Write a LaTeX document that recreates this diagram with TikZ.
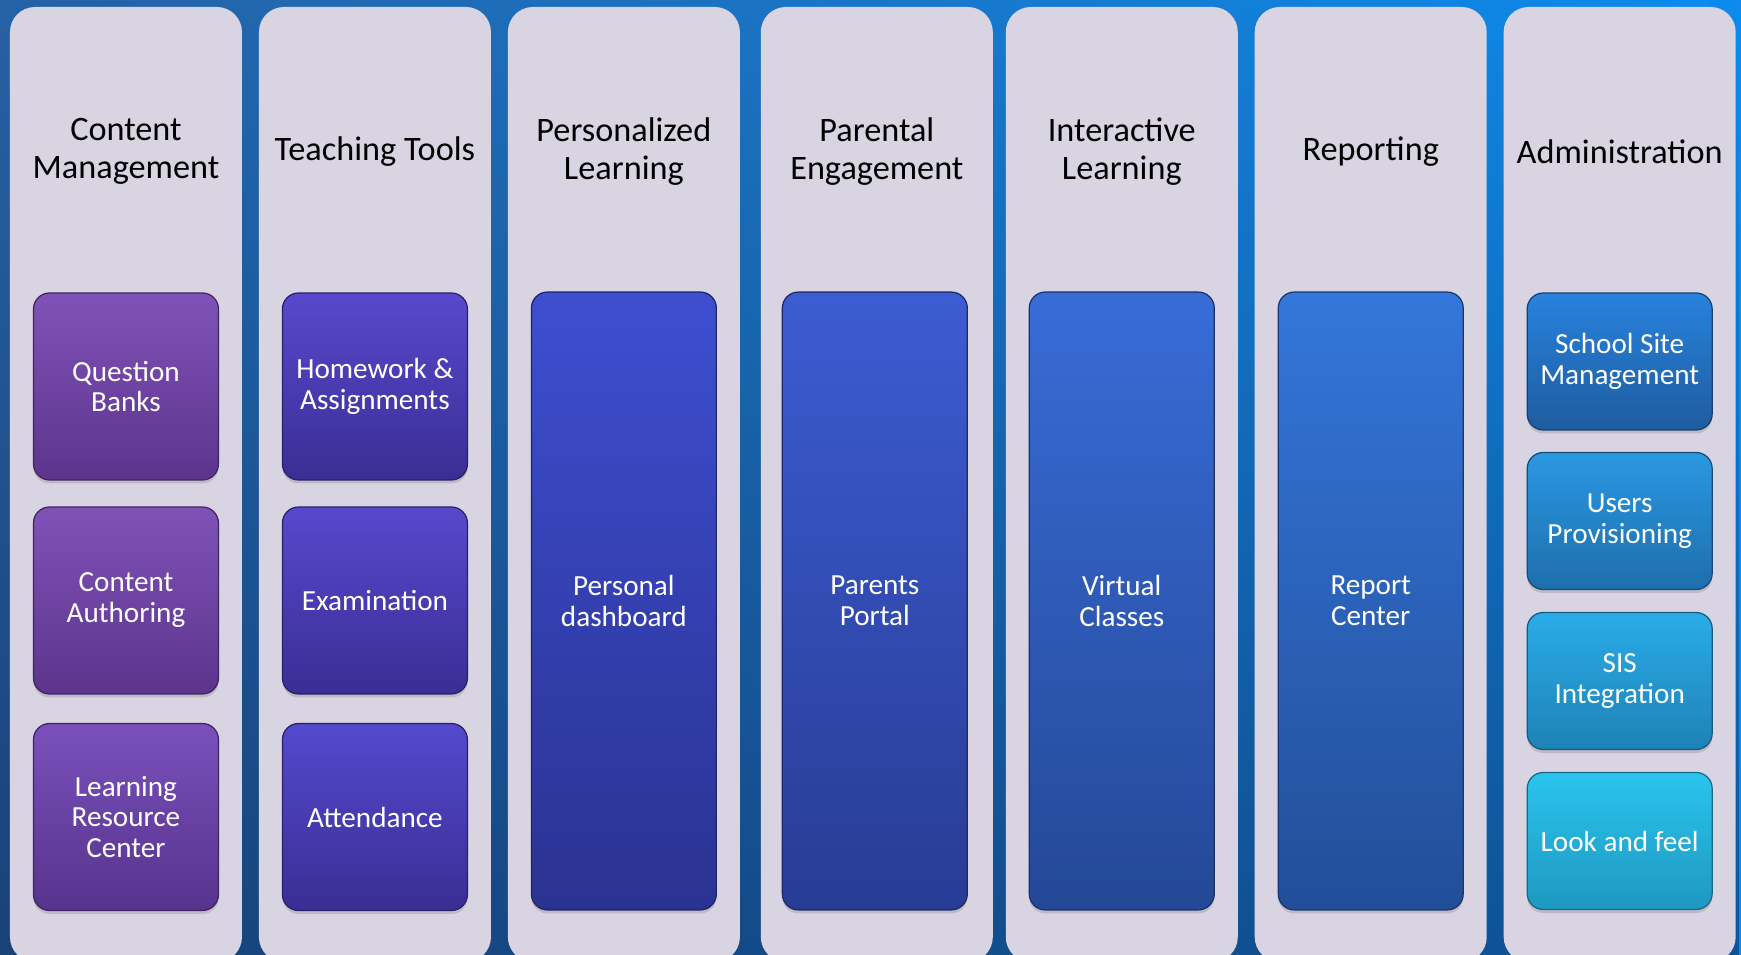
\documentclass[tikz,border=0pt]{standalone}
\usepackage{fontspec}
\setmainfont{Carlito}
\usetikzlibrary{shadows, fadings}
\definecolor{bgleft}{RGB}{38, 98, 165}
\definecolor{bgright}{RGB}{12, 140, 238}
\definecolor{bgdark}{RGB}{15, 40, 85}
\definecolor{panelgray}{RGB}{216, 212, 226}
\definecolor{cmtop}{RGB}{128, 82, 184}
\definecolor{cmbot}{RGB}{92, 52, 140}
\definecolor{tttop}{RGB}{88, 72, 205}
\definecolor{ttbot}{RGB}{58, 46, 148}
\definecolor{pltop}{RGB}{62, 78, 208}
\definecolor{plbot}{RGB}{42, 50, 145}
\definecolor{petop}{RGB}{60, 92, 210}
\definecolor{pebot}{RGB}{40, 60, 148}
\definecolor{iltop}{RGB}{56, 108, 215}
\definecolor{ilbot}{RGB}{36, 72, 150}
\definecolor{rptop}{RGB}{52, 118, 218}
\definecolor{rpbot}{RGB}{34, 78, 152}
\definecolor{sstop}{RGB}{40, 130, 220}
\definecolor{ssbot}{RGB}{30, 92, 160}
\definecolor{uptop}{RGB}{42, 152, 226}
\definecolor{upbot}{RGB}{30, 110, 172}
\definecolor{sitop}{RGB}{42, 172, 232}
\definecolor{sibot}{RGB}{30, 130, 182}
\definecolor{lftop}{RGB}{42, 196, 238}
\definecolor{lfbot}{RGB}{30, 152, 192}

\begin{document}
\begin{tikzpicture}[
    x = 0.02cm, y = -0.02cm,
    panel/.style = {fill = panelgray, rounded corners = 0.5cm},
    head/.style = {align = center, font = \fontsize{19.5}{21.7}\selectfont},
    tile/.style 2 args = {rounded corners = 0.32cm, top color = #1, bottom color = #2, draw = #2!70!black, line width = 0.7pt, text = white, align = center, minimum width = 3.7cm, inner sep = 0pt, font = \fontsize{16.6}{17.6}\selectfont, drop shadow = {opacity = 0.3, shadow xshift = 0pt, shadow yshift = -2pt}},
]

\useasboundingbox (0,0) rectangle (1741,955);
\clip (0,0) rectangle (1741,955);
\shade[left color = bgleft, right color = bgright] (0,0) rectangle (1741,955);
\fill[bgdark, path fading = north, fill opacity = 0.55] (0,0) rectangle (1741,955);

\begin{scope}[xshift = 25.2mm]
\fill[panel] (-116,7) rectangle (116,962);
\node[head] (cmhead) at (0,151.5) {Content\\Management};
\node[tile = {cmtop}{cmbot}, minimum height = 3.74cm] (qbank) at (0,386.5) {Question\\Banks};
\node[tile = {cmtop}{cmbot}, minimum height = 3.74cm] (cauth) at (0,600.5) {Content\\Authoring};
\node[tile = {cmtop!85!tttop}{cmbot!85!ttbot}, minimum height = 3.74cm] (lrc) at (0,817) {Learning\\Resource\\Center};
\end{scope}

\begin{scope}[xshift = 75mm]
\fill[panel] (-116,7) rectangle (116,962);
\node[head] (tthead) at (0,151.5) {Teaching Tools};
\node[tile = {tttop}{ttbot}, minimum height = 3.74cm] (homework) at (0,386.5) {Homework \&\\Assignments};
\node[tile = {tttop}{ttbot}, minimum height = 3.74cm] (exam) at (0,600.5) {Examination};
\node[tile = {tttop!80!pltop}{ttbot}, minimum height = 3.74cm] (attend) at (0,817) {Attendance};
\end{scope}

\begin{scope}[xshift = 124.8mm]
\fill[panel] (-116,7) rectangle (116,962);
\node[head] (plhead) at (0,151.5) {Personalized\\Learning};
\node[tile = {pltop}{plbot}, minimum height = 12.36cm] (dashboard) at (0,601) {Personal\\dashboard};
\end{scope}

\begin{scope}[xshift = 175.4mm]
\fill[panel] (-116,7) rectangle (116,962);
\node[head] (pehead) at (0,151.5) {Parental\\Engagement};
\node[tile = {petop}{pebot}, minimum height = 12.36cm] (portal) at (-2,601) {Parents\\Portal};
\end{scope}

\begin{scope}[xshift = 224.4mm]
\fill[panel] (-116,7) rectangle (116,962);
\node[head] (ilhead) at (0,151.5) {Interactive\\Learning};
\node[tile = {iltop}{ilbot}, minimum height = 12.36cm] (virtual) at (0,601) {Virtual\\Classes};
\end{scope}

\begin{scope}[xshift = 274.2mm]
\fill[panel] (-116,7) rectangle (116,962);
\node[head] (rphead) at (0,151.5) {Reporting};
\node[tile = {rptop}{rpbot}, minimum height = 12.36cm] (report) at (0,601) {Report\\Center};
\end{scope}

\begin{scope}[xshift = 324mm]
\fill[panel] (-116,7) rectangle (116,962);
\node[head] (adhead) at (0,151.5) {Administration};
\node[tile = {sstop}{ssbot}, minimum height = 2.74cm] (site) at (0,361.5) {School Site\\Management};
\node[tile = {uptop}{upbot}, minimum height = 2.74cm] (users) at (0,521) {Users\\Provisioning};
\node[tile = {sitop}{sibot}, minimum height = 2.74cm] (sis) at (0,681) {SIS\\Integration};
\node[tile = {lftop}{lfbot}, minimum height = 2.74cm] (look) at (0,841) {Look and feel};
\end{scope}

\end{tikzpicture}
\end{document}
